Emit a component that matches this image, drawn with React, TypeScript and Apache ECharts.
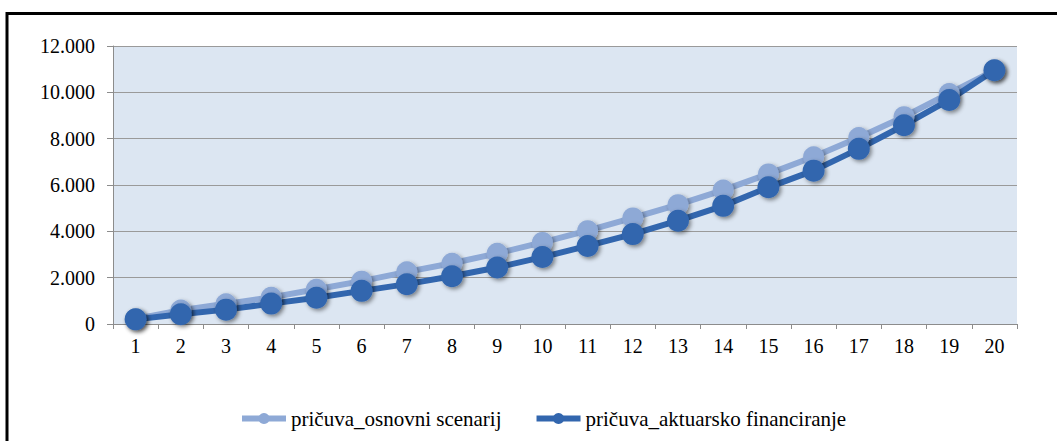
import React, { useEffect, useRef } from "react";
import * as echarts from "echarts";

const categories = ["1","2","3","4","5","6","7","8","9","10","11","12","13","14","15","16","17","18","19","20"];
const seriesNames = ["pričuva_osnovni scenarij", "pričuva_aktuarsko financiranje"];
const osnovni = [220, 600, 870, 1150, 1500, 1850, 2250, 2620, 3050, 3520, 4030, 4580, 5150, 5780, 6480, 7220, 8050, 8950, 9950, 10950];
const aktuarsko = [200, 420, 620, 880, 1130, 1430, 1720, 2060, 2440, 2890, 3370, 3880, 4460, 5100, 5900, 6620, 7560, 8580, 9670, 10950];

const FONT = "'Liberation Serif', 'Times New Roman', serif";

function fmt(v: number) {
  return String(Math.round(v)).replace(/\B(?=(\d{3})+(?!\d))/g, ".");
}

export default function App() {
  const ref = useRef<HTMLDivElement>(null);
  useEffect(() => {
    if (!ref.current) return;
    const chart = echarts.init(ref.current, null, { renderer: "svg" });
    const shadow = {
      shadowBlur: 4,
      shadowColor: "rgba(0,0,0,0.45)",
      shadowOffsetX: 2,
      shadowOffsetY: 2,
    };
    chart.setOption({
      animation: false,
      backgroundColor: "#ffffff",
      textStyle: { fontFamily: FONT, fontSize: 20 },
      grid: { left: 113, top: 46, right: 40, bottom: 117, show: true, backgroundColor: "#DCE6F2", borderWidth: 0 },
      graphic: [
        {
          type: "rect",
          shape: { x: 7, y: 13.5, width: 1080, height: 460 },
          style: { fill: "none", stroke: "#000", lineWidth: 3 },
          silent: true,
          z: 100,
        },
      ],
      legend: {
        top: 403,
        left: 234,
        itemWidth: 44,
        itemHeight: 14,
        itemGap: 32,
        lineStyle: { width: 6 },
        textStyle: { fontFamily: FONT, fontSize: 21, color: "#000" },
        data: seriesNames,
      },
      xAxis: {
        type: "category",
        data: categories,
        boundaryGap: true,
        axisLine: { lineStyle: { color: "#8C8C8C", width: 1 } },
        axisTick: { show: true, length: 5, lineStyle: { color: "#8C8C8C" } },
        axisLabel: { fontFamily: FONT, fontSize: 20, color: "#000", margin: 12 },
      },
      yAxis: {
        type: "value",
        min: 0,
        max: 12000,
        interval: 2000,
        axisLine: { show: true, lineStyle: { color: "#8C8C8C", width: 1 } },
        axisTick: { show: true, length: 6, lineStyle: { color: "#8C8C8C" } },
        axisLabel: { fontFamily: FONT, fontSize: 20, color: "#000", margin: 18, formatter: (v: number) => fmt(v) },
        splitLine: { lineStyle: { color: "#9A9A9A", width: 1 } },
      },
      series: [
        {
          name: seriesNames[0],
          type: "line",
          data: osnovni,
          symbol: "circle",
          symbolSize: 21,
          lineStyle: { color: "#8EA9D6", width: 6 },
          itemStyle: { color: "#8EA9D6", ...shadow },
        },
        {
          name: seriesNames[1],
          type: "line",
          data: aktuarsko,
          symbol: "circle",
          symbolSize: 22,
          lineStyle: { color: "#3266AE", width: 6 },
          itemStyle: { color: "#3266AE", ...shadow },
        },
      ],
    });
    return () => chart.dispose();
  }, []);
  return <div ref={ref} style={{ position: "fixed", left: 0, top: 0, width: 1057, height: 441 }} />;
}
